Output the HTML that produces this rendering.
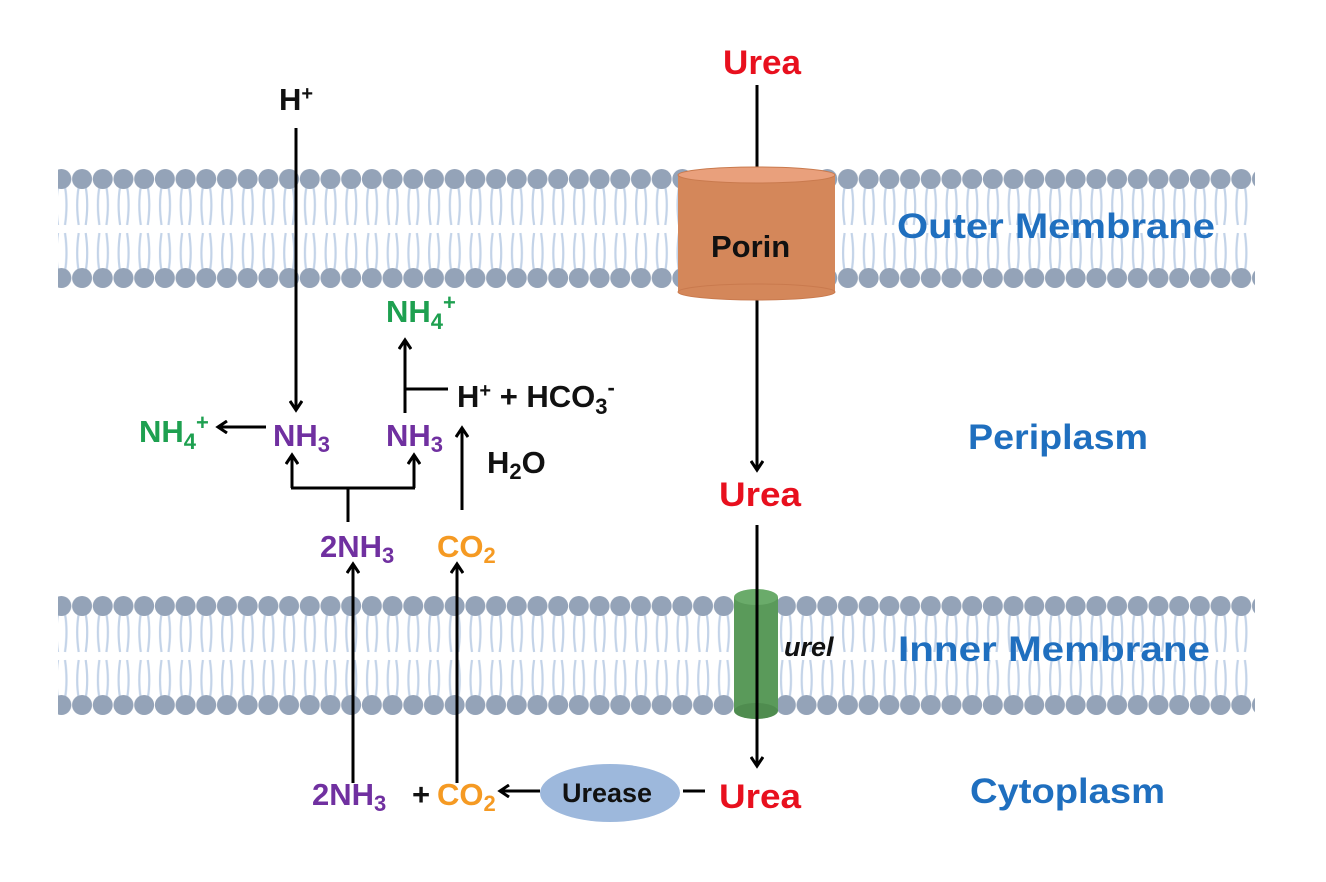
<!DOCTYPE html>
<html><head><meta charset="utf-8"><style>html,body{margin:0;padding:0;background:#fff}svg{display:block}</style></head>
<body>
<svg width="1326" height="882" viewBox="0 0 1326 882" xmlns="http://www.w3.org/2000/svg" font-family="Liberation Sans, sans-serif" font-weight="bold">
<defs>
<pattern id="memO" patternUnits="userSpaceOnUse" x="51" y="169" width="20.7" height="120">
 <g stroke="#c3d3e8" stroke-width="2.2" fill="none">
  <path d="M7 18 Q4 35 7 56 M14 18 Q17 35 14 56"/>
  <path d="M7 64 Q4 85 7 102 M14 64 Q17 85 14 102"/>
 </g>
 <circle cx="10.35" cy="10" r="10" fill="#94a3b8"/>
 <circle cx="10.35" cy="109" r="10" fill="#94a3b8"/>
</pattern>
<pattern id="memI" patternUnits="userSpaceOnUse" x="51" y="596" width="20.7" height="120">
 <g stroke="#c3d3e8" stroke-width="2.2" fill="none">
  <path d="M7 18 Q4 35 7 56 M14 18 Q17 35 14 56"/>
  <path d="M7 64 Q4 85 7 102 M14 64 Q17 85 14 102"/>
 </g>
 <circle cx="10.35" cy="10" r="10" fill="#94a3b8"/>
 <circle cx="10.35" cy="109" r="10" fill="#94a3b8"/>
</pattern>
<marker id="ah" markerWidth="14" markerHeight="14" refX="10" refY="7" orient="auto" markerUnits="userSpaceOnUse">
 <path d="M1 1 L10 7 L1 13" fill="none" stroke="#000" stroke-width="3"/>
</marker>
</defs>

<rect x="58" y="169" width="1197" height="120" fill="url(#memO)"/>
<rect x="58" y="596" width="1197" height="120" fill="url(#memI)"/>

<!-- urea vertical arrows -->
<line x1="757" y1="85" x2="757" y2="470" stroke="#000" stroke-width="3" marker-end="url(#ah)"/>

<!-- porin -->
<rect x="678" y="175" width="157" height="117" fill="#d4875a"/>
<ellipse cx="756.5" cy="292" rx="78.5" ry="8" fill="#d4875a" stroke="#c97a4e" stroke-width="1"/>
<ellipse cx="756.5" cy="175" rx="78.5" ry="8" fill="#e9a07c" stroke="#c97a4e" stroke-width="1"/>
<text x="711" y="257" font-size="31" fill="#111">Porin</text>

<!-- urel channel -->
<rect x="734" y="597" width="44" height="114" fill="#5a9a5a"/>
<ellipse cx="756" cy="711" rx="22" ry="8" fill="#4f8c4f"/>
<ellipse cx="756" cy="597" rx="22" ry="8" fill="#6aab6a"/>
<text x="784" y="656" font-size="27" font-style="italic" fill="#111">urel</text>

<line x1="757" y1="525" x2="757" y2="766" stroke="#000" stroke-width="3" marker-end="url(#ah)"/>
<text x="723" y="74" font-size="34" fill="#e8101e" textLength="78" lengthAdjust="spacingAndGlyphs">Urea</text>
<text x="719" y="506" font-size="34" fill="#e8101e" textLength="82" lengthAdjust="spacingAndGlyphs">Urea</text>
<text x="719" y="808" font-size="34" fill="#e8101e" textLength="82" lengthAdjust="spacingAndGlyphs">Urea</text>

<!-- urease -->
<ellipse cx="610" cy="793" rx="70" ry="29" fill="#9db8dc"/>
<text x="562" y="802" font-size="27" fill="#111">Urease</text>
<line x1="683" y1="791" x2="705" y2="791" stroke="#000" stroke-width="3"/>
<line x1="540" y1="791" x2="500" y2="791" stroke="#000" stroke-width="3" marker-end="url(#ah)"/>

<!-- bottom products -->
<text x="312" y="805" font-size="31" fill="#7030a0">2NH<tspan font-size="22" dy="6">3</tspan></text>
<text x="412" y="805" font-size="31" fill="#111">+</text>
<text x="437" y="805" font-size="31" fill="#f59a23">CO<tspan font-size="22" dy="6">2</tspan></text>
<line x1="353" y1="783" x2="353" y2="564" stroke="#000" stroke-width="3" marker-end="url(#ah)"/>
<line x1="457" y1="783" x2="457" y2="564" stroke="#000" stroke-width="3" marker-end="url(#ah)"/>

<!-- periplasm products -->
<text x="320" y="557" font-size="31" fill="#7030a0">2NH<tspan font-size="22" dy="6">3</tspan></text>
<text x="437" y="557" font-size="31" fill="#f59a23">CO<tspan font-size="22" dy="6">2</tspan></text>
<polyline points="348,522 348,488" fill="none" stroke="#000" stroke-width="3"/>
<polyline points="291,488 415,488" fill="none" stroke="#000" stroke-width="3"/>
<line x1="292" y1="488" x2="292" y2="455" stroke="#000" stroke-width="3" marker-end="url(#ah)"/>
<line x1="414" y1="488" x2="414" y2="455" stroke="#000" stroke-width="3" marker-end="url(#ah)"/>
<line x1="462" y1="510" x2="462" y2="428" stroke="#000" stroke-width="3" marker-end="url(#ah)"/>
<text x="487" y="473" font-size="31" fill="#111">H<tspan font-size="22" dy="6">2</tspan><tspan dy="-6">O</tspan></text>

<text x="273" y="446" font-size="31" fill="#7030a0">NH<tspan font-size="22" dy="6">3</tspan></text>
<text x="386" y="446" font-size="31" fill="#7030a0">NH<tspan font-size="22" dy="6">3</tspan></text>

<!-- H+ -->
<text x="279" y="110" font-size="31" fill="#111">H<tspan font-size="20" dy="-10">+</tspan></text>
<line x1="296" y1="128" x2="296" y2="410" stroke="#000" stroke-width="3" marker-end="url(#ah)"/>

<!-- left NH4+ -->
<line x1="266" y1="427" x2="218" y2="427" stroke="#000" stroke-width="3" marker-end="url(#ah)"/>
<text x="139" y="442" font-size="31" fill="#1ea050">NH<tspan font-size="22" dy="7">4</tspan><tspan font-size="22" dy="-19">+</tspan></text>

<!-- right branch -->
<line x1="405" y1="413" x2="405" y2="340" stroke="#000" stroke-width="3" marker-end="url(#ah)"/>
<line x1="405" y1="389" x2="448" y2="389" stroke="#000" stroke-width="3"/>
<text x="457" y="407" font-size="31" fill="#111">H<tspan font-size="20" dy="-10">+</tspan><tspan dy="10"> + HCO</tspan><tspan font-size="22" dy="7">3</tspan><tspan font-size="22" dy="-19">-</tspan></text>
<text x="386" y="322" font-size="31" fill="#1ea050">NH<tspan font-size="22" dy="7">4</tspan><tspan font-size="22" dy="-19">+</tspan></text>

<!-- right labels -->
<g fill="#1f6fbf" font-size="35">
<text x="897" y="238" textLength="318" lengthAdjust="spacingAndGlyphs">Outer Membrane</text>
<text x="968" y="449" textLength="180" lengthAdjust="spacingAndGlyphs">Periplasm</text>
<text x="898" y="661" textLength="312" lengthAdjust="spacingAndGlyphs">Inner Membrane</text>
<text x="970" y="803" textLength="195" lengthAdjust="spacingAndGlyphs">Cytoplasm</text>
</g>
</svg>
</body></html>
